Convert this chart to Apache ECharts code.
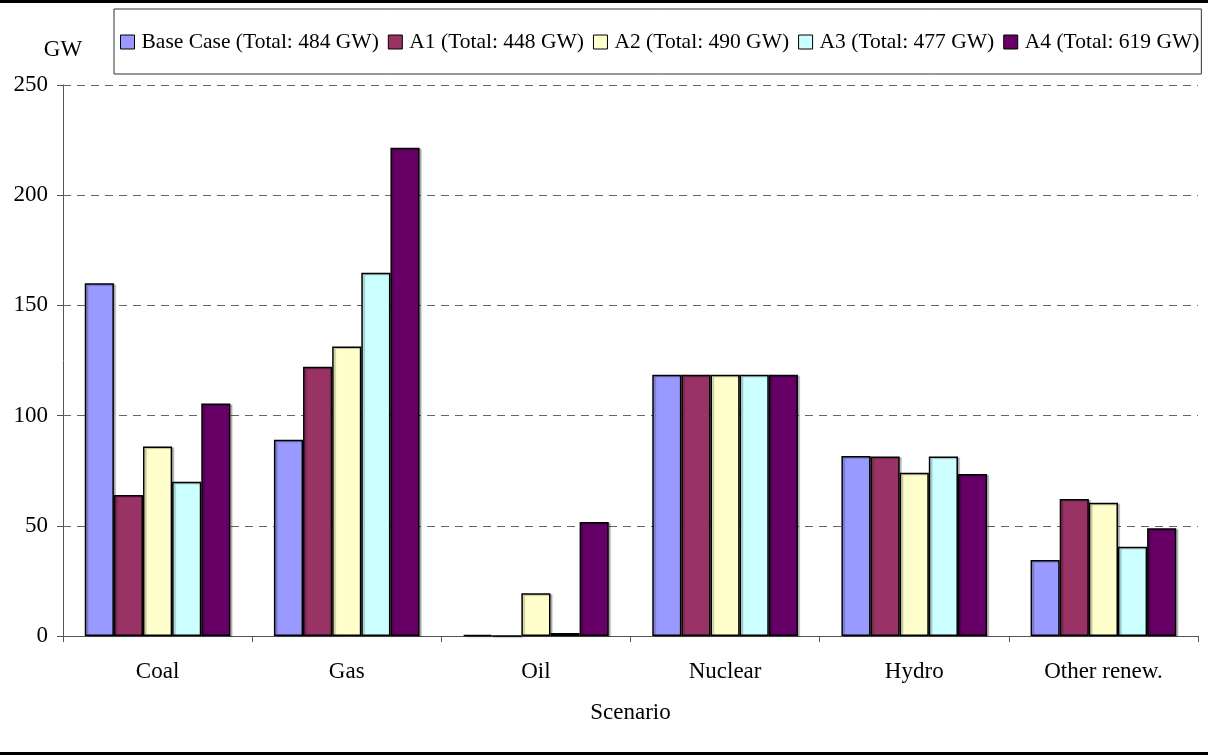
<!DOCTYPE html>
<html>
<head>
<meta charset="utf-8">
<script src="https://cdn.jsdelivr.net/npm/echarts@6/dist/echarts.min.js"></script>
<style>
  html, body { margin: 0; padding: 0; background: #fff; }
  #chart { width: 1208px; height: 755px; }
</style>
</head>
<body>
<div id="chart"></div>
<script>
// categories and series values (GW)
const categories = ["Coal", "Gas", "Oil", "Nuclear", "Hydro", "Other renew."];
const seriesNames = [
  "Base Case (Total: 484 GW)",
  "A1 (Total: 448 GW)",
  "A2 (Total: 490 GW)",
  "A3 (Total: 477 GW)",
  "A4 (Total: 619 GW)"
];
const baseCase = [160, 89, 0.5, 118.5, 81.7, 34.5];
const a1 = [64, 122.2, 0, 118.5, 81.4, 62.2];
const a2 = [86, 131.3, 19.4, 118.5, 74.1, 60.5];
const a3 = [70, 164.8, 1.4, 118.5, 81.4, 40.5];
const a4 = [105.5, 221.5, 51.7, 118.5, 73.5, 48.9];
const colors = ["#9999FF", "#993366", "#FFFFCC", "#CCFFFF", "#660066"];

const font = "'Liberation Serif', 'Times New Roman', serif";
const chart = echarts.init(document.getElementById("chart"));

const allData = [baseCase, a1, a2, a3, a4];
const series = allData.map((d, i) => ({
  name: seriesNames[i],
  type: "bar",
  data: d,
  barGap: "0%",
  barCategoryGap: "23%",
  itemStyle: {
    color: colors[i],
    borderColor: "#000",
    borderWidth: 1.5,
    shadowColor: "rgba(0,0,0,0.25)",
    shadowOffsetX: 2,
    shadowOffsetY: 1,
    shadowBlur: 1
  },
  emphasis: { disabled: true }
}));

chart.setOption({
  animation: false,
  textStyle: { fontFamily: font, color: "#000" },
  grid: { left: 63, right: 10, top: 85, bottom: 119 },
  legend: {
    left: 114,
    top: 9,
    padding: [22, 2, 21, 6],
    itemGap: 9,
    itemWidth: 14,
    itemHeight: 14,
    icon: "rect",
    borderColor: "#333",
    borderWidth: 1,
    textStyle: { fontFamily: font, fontSize: 21.5, color: "#000", padding: [0, 0, 0, 2] },
    itemStyle: { borderColor: "#000", borderWidth: 1, shadowBlur: 0, shadowOffsetX: 0, shadowOffsetY: 0 },
    data: seriesNames
  },
  xAxis: {
    type: "category",
    data: categories,
    name: "Scenario",
    nameLocation: "middle",
    nameGap: 65,
    nameTextStyle: { fontFamily: font, fontSize: 23, color: "#000" },
    axisLine: { lineStyle: { color: "#555", width: 1 } },
    axisTick: { show: true, length: 6, lineStyle: { color: "#555" } },
    axisLabel: { fontFamily: font, fontSize: 23, color: "#000", margin: 24 }
  },
  yAxis: {
    type: "value",
    min: 0,
    max: 250,
    interval: 50,
    name: "GW",
    nameLocation: "end",
    nameGap: 24,
    nameTextStyle: { fontFamily: font, fontSize: 23, color: "#000", align: "center" },
    axisLine: { show: true, lineStyle: { color: "#555", width: 1 } },
    axisTick: { show: true, length: 6, lineStyle: { color: "#555" } },
    axisLabel: { fontFamily: font, fontSize: 23, color: "#000", margin: 15 },
    splitLine: { lineStyle: { color: "#666", type: [8, 6], width: 1 } }
  },
  series: series,
  graphic: [
    { type: "rect", shape: { x: 0, y: 0, width: 1208, height: 3 }, style: { fill: "#000" } },
    { type: "rect", shape: { x: 0, y: 752, width: 1208, height: 3 }, style: { fill: "#000" } }
  ]
});
</script>
</body>
</html>
